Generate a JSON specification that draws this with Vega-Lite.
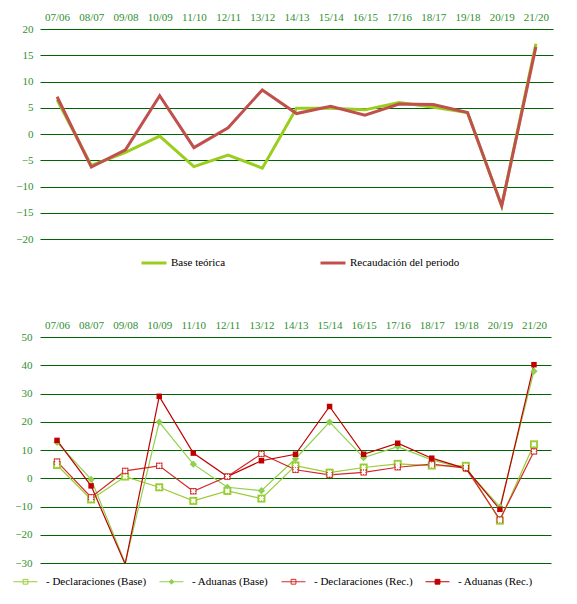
{
  "$schema": "https://vega.github.io/schema/vega-lite/v6.json",
  "background": "white",
  "padding": {"left": 7, "top": 11, "right": 5, "bottom": 5},
  "config": {
    "font": "Liberation Serif",
    "view": {"stroke": null},
    "axis": {
      "labelFont": "Liberation Serif",
      "labelFontSize": 11,
      "labelColor": "#2F8F2F",
      "domain": false,
      "ticks": false,
      "title": null
    },
    "axisX": {"orient": "top", "grid": false, "labelAngle": 0, "labelPadding": 7},
    "axisY": {"grid": true, "gridColor": "#006400", "gridWidth": 1, "gridOpacity": 1, "labelPadding": 7},
    "legend": {
      "labelFont": "Liberation Serif",
      "labelFontSize": 11,
      "labelColor": "black",
      "title": null,
      "orient": "none",
      "direction": "horizontal",
      "padding": 0
    }
  },
  "datasets": {
    "arriba": [
      {"periodo": "07/06", "serie": "Base teórica", "valor": 6.5},
      {"periodo": "08/07", "serie": "Base teórica", "valor": -6.0},
      {"periodo": "09/08", "serie": "Base teórica", "valor": -3.5},
      {"periodo": "10/09", "serie": "Base teórica", "valor": -0.4},
      {"periodo": "11/10", "serie": "Base teórica", "valor": -6.2},
      {"periodo": "12/11", "serie": "Base teórica", "valor": -4.0},
      {"periodo": "13/12", "serie": "Base teórica", "valor": -6.5},
      {"periodo": "14/13", "serie": "Base teórica", "valor": 4.9},
      {"periodo": "15/14", "serie": "Base teórica", "valor": 4.9},
      {"periodo": "16/15", "serie": "Base teórica", "valor": 4.6},
      {"periodo": "17/16", "serie": "Base teórica", "valor": 6.0},
      {"periodo": "18/17", "serie": "Base teórica", "valor": 5.1},
      {"periodo": "19/18", "serie": "Base teórica", "valor": 4.1},
      {"periodo": "20/19", "serie": "Base teórica", "valor": -13.7},
      {"periodo": "21/20", "serie": "Base teórica", "valor": 17.2},
      {"periodo": "07/06", "serie": "Recaudación del periodo", "valor": 7.1},
      {"periodo": "08/07", "serie": "Recaudación del periodo", "valor": -6.3},
      {"periodo": "09/08", "serie": "Recaudación del periodo", "valor": -3.0},
      {"periodo": "10/09", "serie": "Recaudación del periodo", "valor": 7.3},
      {"periodo": "11/10", "serie": "Recaudación del periodo", "valor": -2.6},
      {"periodo": "12/11", "serie": "Recaudación del periodo", "valor": 1.2},
      {"periodo": "13/12", "serie": "Recaudación del periodo", "valor": 8.4},
      {"periodo": "14/13", "serie": "Recaudación del periodo", "valor": 3.9},
      {"periodo": "15/14", "serie": "Recaudación del periodo", "valor": 5.3},
      {"periodo": "16/15", "serie": "Recaudación del periodo", "valor": 3.6},
      {"periodo": "17/16", "serie": "Recaudación del periodo", "valor": 5.7},
      {"periodo": "18/17", "serie": "Recaudación del periodo", "valor": 5.6},
      {"periodo": "19/18", "serie": "Recaudación del periodo", "valor": 4.1},
      {"periodo": "20/19", "serie": "Recaudación del periodo", "valor": -13.7},
      {"periodo": "21/20", "serie": "Recaudación del periodo", "valor": 16.6}
    ],
    "abajo": [
      {"periodo": "07/06", "serie": "- Declaraciones (Base)", "valor": 4.7},
      {"periodo": "08/07", "serie": "- Declaraciones (Base)", "valor": -7.5},
      {"periodo": "09/08", "serie": "- Declaraciones (Base)", "valor": 0.6},
      {"periodo": "10/09", "serie": "- Declaraciones (Base)", "valor": -3.2},
      {"periodo": "11/10", "serie": "- Declaraciones (Base)", "valor": -8.0},
      {"periodo": "12/11", "serie": "- Declaraciones (Base)", "valor": -4.5},
      {"periodo": "13/12", "serie": "- Declaraciones (Base)", "valor": -7.2},
      {"periodo": "14/13", "serie": "- Declaraciones (Base)", "valor": 4.5},
      {"periodo": "15/14", "serie": "- Declaraciones (Base)", "valor": 2.0},
      {"periodo": "16/15", "serie": "- Declaraciones (Base)", "valor": 3.8},
      {"periodo": "17/16", "serie": "- Declaraciones (Base)", "valor": 5.1},
      {"periodo": "18/17", "serie": "- Declaraciones (Base)", "valor": 4.5},
      {"periodo": "19/18", "serie": "- Declaraciones (Base)", "valor": 4.4},
      {"periodo": "20/19", "serie": "- Declaraciones (Base)", "valor": -15.0},
      {"periodo": "21/20", "serie": "- Declaraciones (Base)", "valor": 12.0},
      {"periodo": "07/06", "serie": "- Aduanas (Base)", "valor": 12.7},
      {"periodo": "08/07", "serie": "- Aduanas (Base)", "valor": -0.4},
      {"periodo": "09/08", "serie": "- Aduanas (Base)", "valor": -30.0},
      {"periodo": "10/09", "serie": "- Aduanas (Base)", "valor": 19.9},
      {"periodo": "11/10", "serie": "- Aduanas (Base)", "valor": 5.0},
      {"periodo": "12/11", "serie": "- Aduanas (Base)", "valor": -3.2},
      {"periodo": "13/12", "serie": "- Aduanas (Base)", "valor": -4.4},
      {"periodo": "14/13", "serie": "- Aduanas (Base)", "valor": 6.9},
      {"periodo": "15/14", "serie": "- Aduanas (Base)", "valor": 19.9},
      {"periodo": "16/15", "serie": "- Aduanas (Base)", "valor": 7.3},
      {"periodo": "17/16", "serie": "- Aduanas (Base)", "valor": 11.2},
      {"periodo": "18/17", "serie": "- Aduanas (Base)", "valor": 6.5},
      {"periodo": "19/18", "serie": "- Aduanas (Base)", "valor": 3.3},
      {"periodo": "20/19", "serie": "- Aduanas (Base)", "valor": -10.1},
      {"periodo": "21/20", "serie": "- Aduanas (Base)", "valor": 37.9},
      {"periodo": "07/06", "serie": "- Declaraciones (Rec.)", "valor": 5.9},
      {"periodo": "08/07", "serie": "- Declaraciones (Rec.)", "valor": -6.7},
      {"periodo": "09/08", "serie": "- Declaraciones (Rec.)", "valor": 2.6},
      {"periodo": "10/09", "serie": "- Declaraciones (Rec.)", "valor": 4.4},
      {"periodo": "11/10", "serie": "- Declaraciones (Rec.)", "valor": -4.6},
      {"periodo": "12/11", "serie": "- Declaraciones (Rec.)", "valor": 0.6},
      {"periodo": "13/12", "serie": "- Declaraciones (Rec.)", "valor": 8.6},
      {"periodo": "14/13", "serie": "- Declaraciones (Rec.)", "valor": 3.0},
      {"periodo": "15/14", "serie": "- Declaraciones (Rec.)", "valor": 1.2},
      {"periodo": "16/15", "serie": "- Declaraciones (Rec.)", "valor": 2.1},
      {"periodo": "17/16", "serie": "- Declaraciones (Rec.)", "valor": 3.9},
      {"periodo": "18/17", "serie": "- Declaraciones (Rec.)", "valor": 5.0},
      {"periodo": "19/18", "serie": "- Declaraciones (Rec.)", "valor": 3.6},
      {"periodo": "20/19", "serie": "- Declaraciones (Rec.)", "valor": -14.6},
      {"periodo": "21/20", "serie": "- Declaraciones (Rec.)", "valor": 9.5},
      {"periodo": "07/06", "serie": "- Aduanas (Rec.)", "valor": 13.4},
      {"periodo": "08/07", "serie": "- Aduanas (Rec.)", "valor": -2.7},
      {"periodo": "09/08", "serie": "- Aduanas (Rec.)", "valor": -30.4},
      {"periodo": "10/09", "serie": "- Aduanas (Rec.)", "valor": 29.0},
      {"periodo": "11/10", "serie": "- Aduanas (Rec.)", "valor": 8.9},
      {"periodo": "12/11", "serie": "- Aduanas (Rec.)", "valor": 0.6},
      {"periodo": "13/12", "serie": "- Aduanas (Rec.)", "valor": 6.2},
      {"periodo": "14/13", "serie": "- Aduanas (Rec.)", "valor": 8.5},
      {"periodo": "15/14", "serie": "- Aduanas (Rec.)", "valor": 25.4},
      {"periodo": "16/15", "serie": "- Aduanas (Rec.)", "valor": 8.5},
      {"periodo": "17/16", "serie": "- Aduanas (Rec.)", "valor": 12.4},
      {"periodo": "18/17", "serie": "- Aduanas (Rec.)", "valor": 7.1},
      {"periodo": "19/18", "serie": "- Aduanas (Rec.)", "valor": 3.4},
      {"periodo": "20/19", "serie": "- Aduanas (Rec.)", "valor": -11.0},
      {"periodo": "21/20", "serie": "- Aduanas (Rec.)", "valor": 40.2}
    ]
  },
  "spacing": 50,
  "resolve": {
    "scale": {"color": "independent", "x": "independent", "y": "independent"},
    "legend": {"color": "independent"}
  },
  "vconcat": [
    {
      "width": 513,
      "height": 210,
      "data": {"name": "arriba"},
      "mark": {"type": "line", "strokeWidth": 3, "clip": true},
      "encoding": {
        "x": {"field": "periodo", "type": "nominal", "sort": null,
              "scale": {"type": "point", "padding": 0.5}},
        "y": {"field": "valor", "type": "quantitative",
              "scale": {"domain": [-20, 20], "nice": false, "zero": false},
              "axis": {"values": [-20, -15, -10, -5, 0, 5, 10, 15, 20], "minExtent": 33, "maxExtent": 33}},
        "color": {"field": "serie", "type": "nominal",
                  "scale": {"domain": ["Base teórica", "Recaudación del periodo"], "range": ["#9ACD1E", "#C0504D"]},
                  "legend": {"legendX": 100, "legendY": 220, "symbolType": "stroke", "symbolSize": 625,
                             "symbolStrokeWidth": 3, "labelOffset": 3, "columnPadding": 88}}
      }
    },
    {
      "width": 511,
      "height": 226,
      "data": {"name": "abajo"},
      "encoding": {
        "x": {"field": "periodo", "type": "nominal", "sort": null,
              "scale": {"type": "point", "padding": 0.5}},
        "y": {"field": "valor", "type": "quantitative",
              "scale": {"domain": [-30, 50], "nice": false, "zero": false},
              "axis": {"values": [-30, -20, -10, 0, 10, 20, 30, 40, 50], "labelPadding": 8, "minExtent": 25, "maxExtent": 25}}
      },
      "layer": [
        {
          "mark": {"type": "line", "strokeWidth": 1.2, "clip": true},
          "encoding": {
            "color": {"field": "serie", "type": "nominal",
                      "scale": {"domain": ["- Declaraciones (Base)", "- Aduanas (Base)", "- Declaraciones (Rec.)", "- Aduanas (Rec.)"],
                                "range": ["#99CC33", "#8FD14F", "#D42A2A", "#C00000"]},
                      "legend": {"legendX": -27, "legendY": 232, "symbolSize": 576, "symbolStrokeWidth": 1,
                                 "labelOffset": 8, "columnPadding": 10,
                                 "encode": {"symbols": {"update": {
                                   "shape": {"signal": "datum.value === '- Aduanas (Base)' ? 'M-1,0H1M0,-0.2L0.2,0L0,0.2L-0.2,0Z' : 'M-1,0H1M-0.2,-0.2H0.2V0.2H-0.2Z'"},
                                   "fill": {"signal": "datum.value === '- Aduanas (Rec.)' ? '#C00000' : datum.value === '- Aduanas (Base)' ? '#8FD14F' : 'white'"},
                                   "strokeWidth": {"value": 1}
                                 }}}}}
          }
        },
        {
          "transform": [{"filter": "datum.valor > -29"}],
          "mark": {"type": "point", "filled": true, "opacity": 1, "strokeWidth": 0},
          "encoding": {
            "fill": {"field": "serie", "type": "nominal", "legend": null,
                     "scale": {"domain": ["- Declaraciones (Base)", "- Aduanas (Base)", "- Declaraciones (Rec.)", "- Aduanas (Rec.)"],
                               "range": ["#99CC33", "#8FD14F", "#D42A2A", "#C00000"]}},
            "shape": {"field": "serie", "type": "nominal", "legend": null,
                      "scale": {"domain": ["- Declaraciones (Base)", "- Aduanas (Base)", "- Declaraciones (Rec.)", "- Aduanas (Rec.)"],
                                "range": ["square", "diamond", "square", "square"]}},
            "size": {"field": "serie", "type": "nominal", "legend": null,
                     "scale": {"domain": ["- Declaraciones (Base)", "- Aduanas (Base)", "- Declaraciones (Rec.)", "- Aduanas (Rec.)"],
                               "range": [64, 30, 64, 70]}}
          }
        },
        {
          "transform": [{"filter": "datum.valor > -29 && indexof(datum.serie, 'Declaraciones') >= 0"}],
          "mark": {"type": "point", "shape": "cross", "angle": 45, "filled": true, "fill": "white", "opacity": 1, "strokeWidth": 0, "size": 28},
          "encoding": {}
        }
      ]
    }
  ]
}
